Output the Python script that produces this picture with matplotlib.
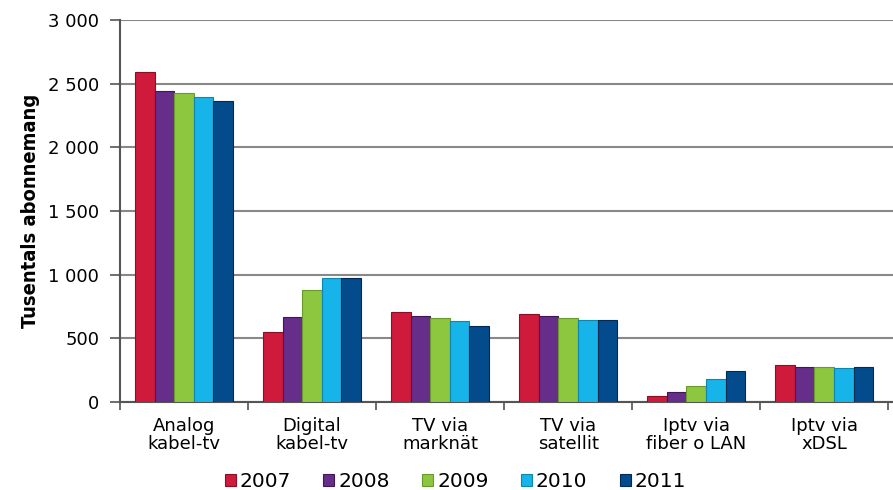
import matplotlib.pyplot as plt
import numpy as np

categories = ["Analog\nkabel-tv", "Digital\nkabel-tv", "TV via\nmarknät",
              "TV via\nsatellit", "Iptv via\nfiber o LAN", "Iptv via\nxDSL"]
years = ["2007", "2008", "2009", "2010", "2011"]

v2007 = [2590, 552, 705, 691, 50, 290]
v2008 = [2443, 665, 676, 676, 76, 275]
v2009 = [2430, 880, 657, 657, 123, 276]
v2010 = [2398, 976, 636, 644, 183, 265]
v2011 = [2364, 976, 600, 644, 241, 276]
values = [v2007, v2008, v2009, v2010, v2011]

colors = ["#d01a3c", "#662d8a", "#8dc63f", "#16b4e9", "#034b8c"]
edges = ["#8a0f25", "#3f1858", "#6a9a2c", "#0e86b0", "#012a55"]

fig = plt.figure(figsize=(8.93, 4.90), dpi=100)
ax = fig.add_axes([0.1344, 0.1796, 0.866, 0.7796])

x = np.arange(len(categories))
w = 0.153
for i, (yr, vals) in enumerate(zip(years, values)):
    ax.bar(x + (i - 2) * w, vals, width=w, color=colors[i], edgecolor=edges[i],
           linewidth=0.8, label=yr, zorder=3)

ax.set_xlim(-0.5, len(categories) - 0.5 + 0.04)
ax.set_ylim(0, 3000)
yt = np.arange(0, 3001, 500)
ax.set_yticks(yt)
ax.set_yticklabels([f"{v:,}".replace(",", " ") for v in yt], fontsize=13)
ax.yaxis.grid(True, color="#888888", linewidth=1.5, zorder=0)

ax.set_xticks(np.arange(len(categories) + 1) - 0.5)
ax.set_xticklabels([])
ax.set_xticks(x, minor=True)
ax.set_xticklabels(categories, minor=True, fontsize=13, linespacing=1.0)
ax.tick_params(axis="x", which="minor", length=0, pad=11)
ax.tick_params(axis="x", which="major", length=6, color="#555555", width=1.2)
ax.tick_params(axis="y", length=7, color="#555555", width=1.2, pad=8)

for s in ["top", "right"]:
    ax.spines[s].set_visible(False)
for s in ["left", "bottom"]:
    ax.spines[s].set_color("#555555")
    ax.spines[s].set_linewidth(1.5)

ax.set_ylabel("Tusentals abonnemang", fontsize=14.5, fontweight="bold",
              fontstretch="condensed", labelpad=6)

leg = fig.legend(loc="center", bbox_to_anchor=(0.51, 0.017), ncol=5,
                 frameon=False, fontsize=14.5, handlelength=0.55, handleheight=0.55,
                 handletextpad=0.2, columnspacing=1.6)

fig.savefig("out.png", dpi=100)
